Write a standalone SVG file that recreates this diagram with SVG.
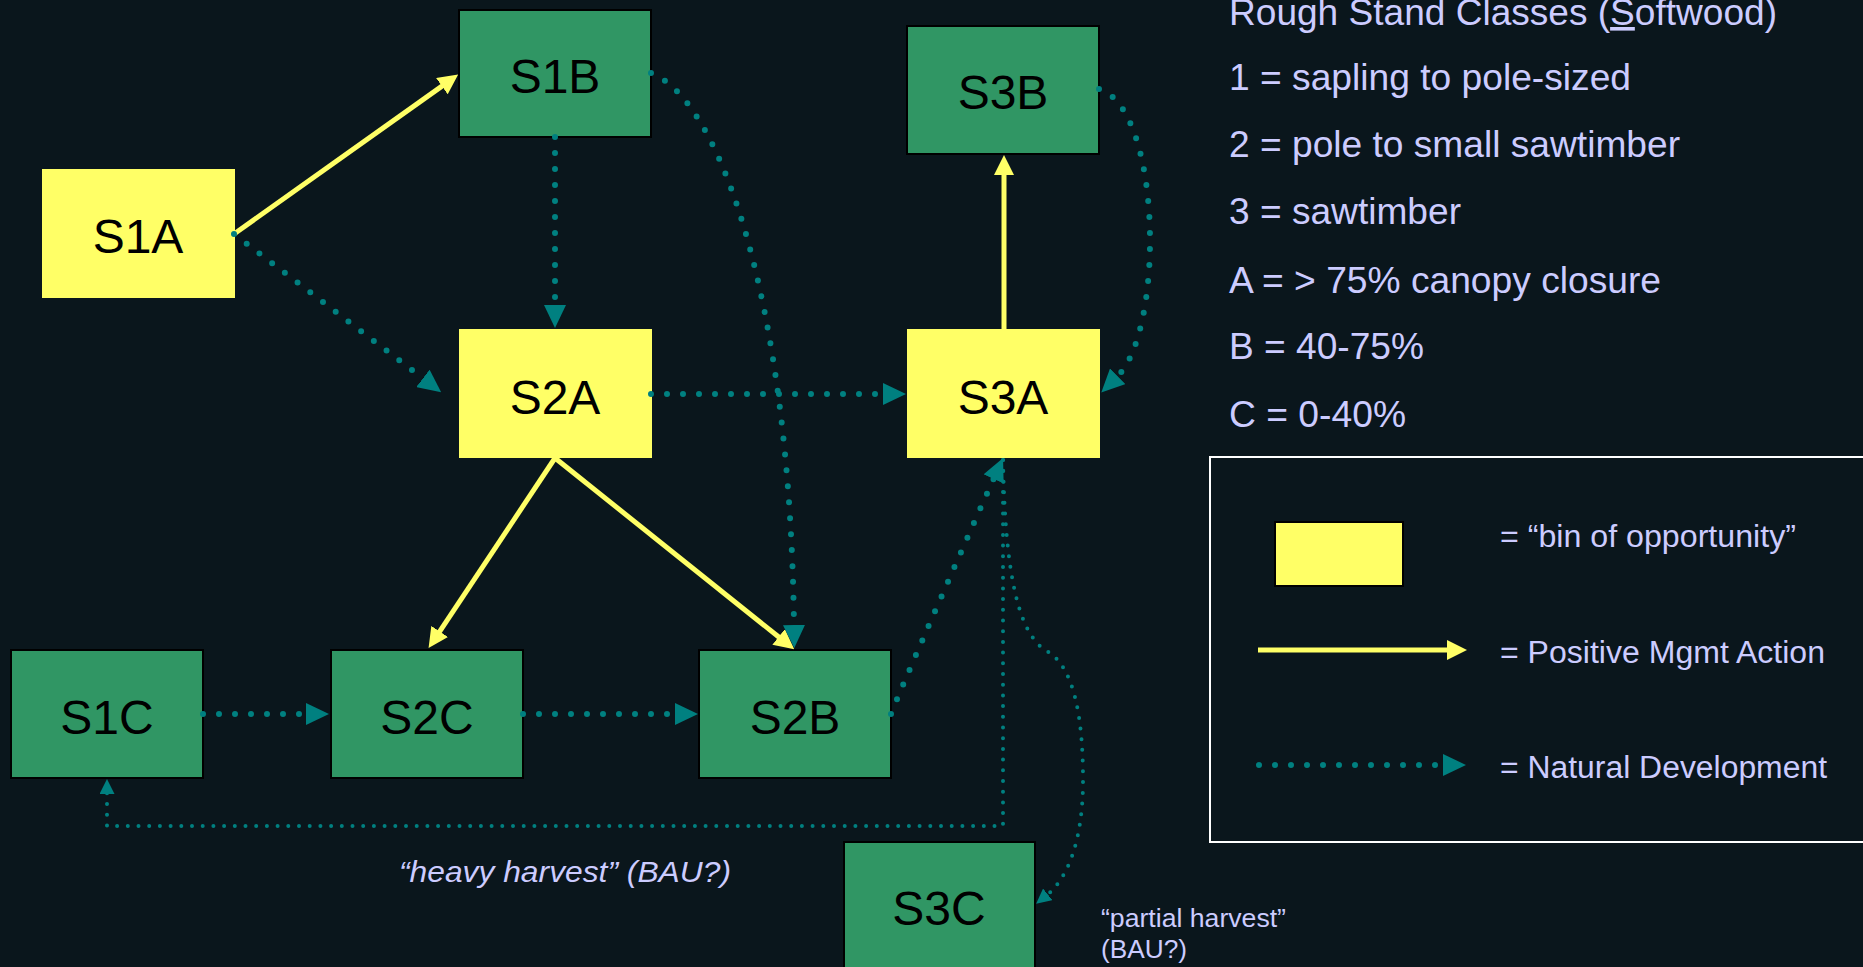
<svg xmlns="http://www.w3.org/2000/svg" width="1863" height="967" viewBox="0 0 1863 967">
<style>
.bg{fill:#0a161c}
.green{fill:#309664;stroke:#000;stroke-width:2}
.yellow{fill:#ffff66}
.lbl{font-family:"Liberation Sans",Arial,sans-serif;font-size:48px;fill:#000;text-anchor:middle}
.leg{font-family:"Liberation Sans",Arial,sans-serif;font-size:36px;fill:#ccccff}
.leg2{font-family:"Liberation Sans",Arial,sans-serif;font-size:31px;fill:#ccccff}
.note{font-family:"Liberation Sans",Arial,sans-serif;fill:#ccccff}
.pos{fill:none;stroke:#ffff66;stroke-width:5}
.nat{fill:none;stroke:#008080;stroke-width:6;stroke-linecap:round;stroke-dasharray:0 16}
.nats{fill:none;stroke:#008080;stroke-width:4;stroke-linecap:round;stroke-dasharray:0 10.7}
</style>
<defs>
<marker id="ya" markerUnits="userSpaceOnUse" viewBox="0 0 20 20" markerWidth="20" markerHeight="20" refX="1" refY="10" orient="auto"><path d="M0,0 L20,10 L0,20 z" fill="#ffff66"/></marker>
<marker id="ta" markerUnits="userSpaceOnUse" viewBox="0 0 23 22" markerWidth="23" markerHeight="22" refX="1" refY="11" orient="auto"><path d="M0,0 L23,11 L0,22 z" fill="#008080"/></marker>
<marker id="ts" markerUnits="userSpaceOnUse" viewBox="0 0 15 15" markerWidth="15" markerHeight="15" refX="1" refY="7.5" orient="auto"><path d="M0,0 L15,7.5 L0,15 z" fill="#008080"/></marker>
</defs>
<rect class="bg" x="0" y="0" width="1863" height="967"/>

<g id="nodes">
<g id="S1A"><rect class="yellow" x="42" y="169" width="193" height="129"/><text class="lbl" x="138" y="253">S1A</text></g>
<g id="S1B"><rect class="green" x="459" y="10" width="192" height="127"/><text class="lbl" x="555" y="93">S1B</text></g>
<g id="S2A"><rect class="yellow" x="459" y="329" width="193" height="129"/><text class="lbl" x="555" y="414">S2A</text></g>
<g id="S3B"><rect class="green" x="907" y="26" width="192" height="128"/><text class="lbl" x="1003" y="109">S3B</text></g>
<g id="S3A"><rect class="yellow" x="907" y="329" width="193" height="129"/><text class="lbl" x="1003" y="414">S3A</text></g>
<g id="S1C"><rect class="green" x="11" y="650" width="192" height="128"/><text class="lbl" x="107" y="734">S1C</text></g>
<g id="S2C"><rect class="green" x="331" y="650" width="192" height="128"/><text class="lbl" x="427" y="734">S2C</text></g>
<g id="S2B"><rect class="green" x="699" y="650" width="192" height="128"/><text class="lbl" x="795" y="734">S2B</text></g>
<g id="S3C"><rect class="green" x="844" y="842" width="191" height="140"/><text class="lbl" x="939" y="925">S3C</text></g>
</g>

<g id="connectors">
<path class="pos" d="M234,234 L442.7,85.6" marker-end="url(#ya)"/>
<path class="pos" d="M555,458 L439.1,632.3" marker-end="url(#ya)"/>
<path class="pos" d="M555,458 L779.4,637.5" marker-end="url(#ya)"/>
<path class="pos" d="M1004,329 L1004,174" marker-end="url(#ya)"/>
<path class="nat" d="M555,137 L555,306" marker-end="url(#ta)"/>
<path class="nat" d="M234,234 L423.7,379" marker-end="url(#ta)"/>
<path class="nat" d="M651,394 L884,394" marker-end="url(#ta)"/>
<path class="nat" d="M203,714 L307,714" marker-end="url(#ta)"/>
<path class="nat" d="M523,714 L676,714" marker-end="url(#ta)"/>
<path class="nat" d="M651,73 C720,100 790,300 794,626" marker-end="url(#ta)"/>
<path class="nat" d="M1099,89 C1162,108 1165,330 1117,377" marker-end="url(#ta)"/>
<path class="nat" d="M891,714 C900,690 975,520 994,478" marker-end="url(#ta)"/>
<path class="nats" d="M1003,460 V826 H107 V793" marker-end="url(#ts)"/>
<path class="nats" d="M1003,460 C1005,560 1015,630 1045,650 C1075,665 1083,720 1083,780 C1083,840 1068,878 1047,895" marker-end="url(#ts)"/>
</g>

<g id="notes">
<text class="note" x="399" y="882" font-size="29" font-style="italic" textLength="332" lengthAdjust="spacingAndGlyphs">“heavy harvest” (BAU?)</text>
<text class="note" x="1101" y="927" font-size="26" textLength="185" lengthAdjust="spacingAndGlyphs">“partial harvest”</text>
<text class="note" x="1101" y="958" font-size="26" textLength="86" lengthAdjust="spacingAndGlyphs">(BAU?)</text>
</g>

<g id="key">
<text class="leg" x="1229" y="25" textLength="548" lengthAdjust="spacingAndGlyphs">Rough Stand Classes (<tspan text-decoration="underline">S</tspan>oftwood)</text>
<text class="leg" x="1229" y="90" textLength="402" lengthAdjust="spacingAndGlyphs">1 = sapling to pole-sized</text>
<text class="leg" x="1229" y="157" textLength="451" lengthAdjust="spacingAndGlyphs">2 = pole to small sawtimber</text>
<text class="leg" x="1229" y="224" textLength="232" lengthAdjust="spacingAndGlyphs">3 = sawtimber</text>
<text class="leg" x="1229" y="293" textLength="432" lengthAdjust="spacingAndGlyphs">A = &gt; 75% canopy closure</text>
<text class="leg" x="1229" y="359" textLength="195" lengthAdjust="spacingAndGlyphs">B = 40-75%</text>
<text class="leg" x="1229" y="427" textLength="177" lengthAdjust="spacingAndGlyphs">C = 0-40%</text>
</g>

<g id="legend">
<rect x="1210" y="457" width="700" height="385" fill="none" stroke="#ffffff" stroke-width="2"/>
<rect x="1275" y="522" width="128" height="64" fill="#ffff66" stroke="#000" stroke-width="2"/>
<text class="leg2" x="1500" y="547" textLength="296" lengthAdjust="spacingAndGlyphs">= “bin of opportunity”</text>
<path class="pos" d="M1258,650 L1448,650" marker-end="url(#ya)"/>
<text class="leg2" x="1500" y="663" textLength="325" lengthAdjust="spacingAndGlyphs">= Positive Mgmt Action</text>
<path class="nat" d="M1259,765 L1444,765" marker-end="url(#ta)"/>
<text class="leg2" x="1500" y="778" textLength="327" lengthAdjust="spacingAndGlyphs">= Natural Development</text>
</g>
</svg>
